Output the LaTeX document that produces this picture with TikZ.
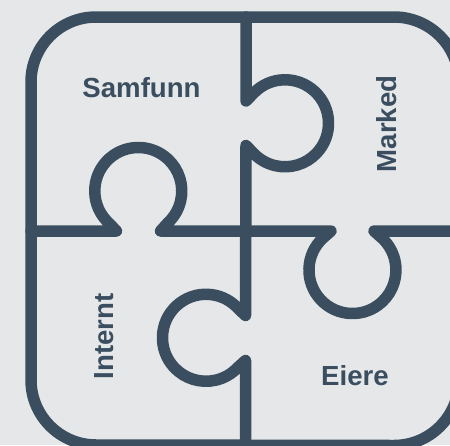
\documentclass[tikz,border=0pt]{standalone}
\usepackage{fontspec}
\setmainfont{Liberation Sans}
\definecolor{bgc}{HTML}{E6E7E9}
\definecolor{ink}{HTML}{3A4E60}
\tikzset{
  pz/.style={draw=ink,line width=11.5pt,line join=round,line cap=round},
  lab/.style={text=ink,font=\fontsize{27.6}{30}\selectfont\bfseries,inner sep=0pt,anchor=center}
}
\begin{document}
\begin{tikzpicture}[x=1pt,y=1pt]
\useasboundingbox (0,-445) rectangle (450,0);
\fill[bgc] (0,-445) rectangle (450,0);
\clip (0,-445) rectangle (450,0);
% outline
\draw[pz] (31,-82) -- (31,-380) arc[start angle=180,end angle=270,radius=65] -- (394,-445.5) arc[start angle=270,end angle=360,radius=65] -- (459,-82) arc[start angle=0,end angle=90,radius=65] -- (96,-17) arc[start angle=90,end angle=180,radius=65] -- cycle;
% left-right seam
\draw[pz] (31,-231) -- (116.5,-231) -- (108.6,-222.8)
  arc[start angle=227,end angle=-47,radius=43.5] -- (160.5,-231)
  -- (331,-231) -- (322.8,-238.2)
  arc[start angle=133,end angle=407,radius=43.5] -- (374,-231) -- (459,-231);
% top-bottom seam
\draw[pz] (246,-17) -- (246,-101) -- (253.2,-93.6)
  arc[start angle=137,end angle=-137,radius=43.5] -- (246,-145.5)
  -- (245.5,-315.5) -- (237.8,-308.1)
  arc[start angle=43,end angle=317,radius=43.5] -- (245.5,-360.5) -- (245.5,-446);
\node[lab] (samfunn) at (141.5,-88) {Samfunn};
\node[lab,rotate=90] (marked) at (386.5,-124) {Marked};
\node[lab,rotate=90] (internt) at (104.5,-336.5) {Internt};
\node[lab] (eiere) at (355,-376) {Eiere};
\end{tikzpicture}
\end{document}
